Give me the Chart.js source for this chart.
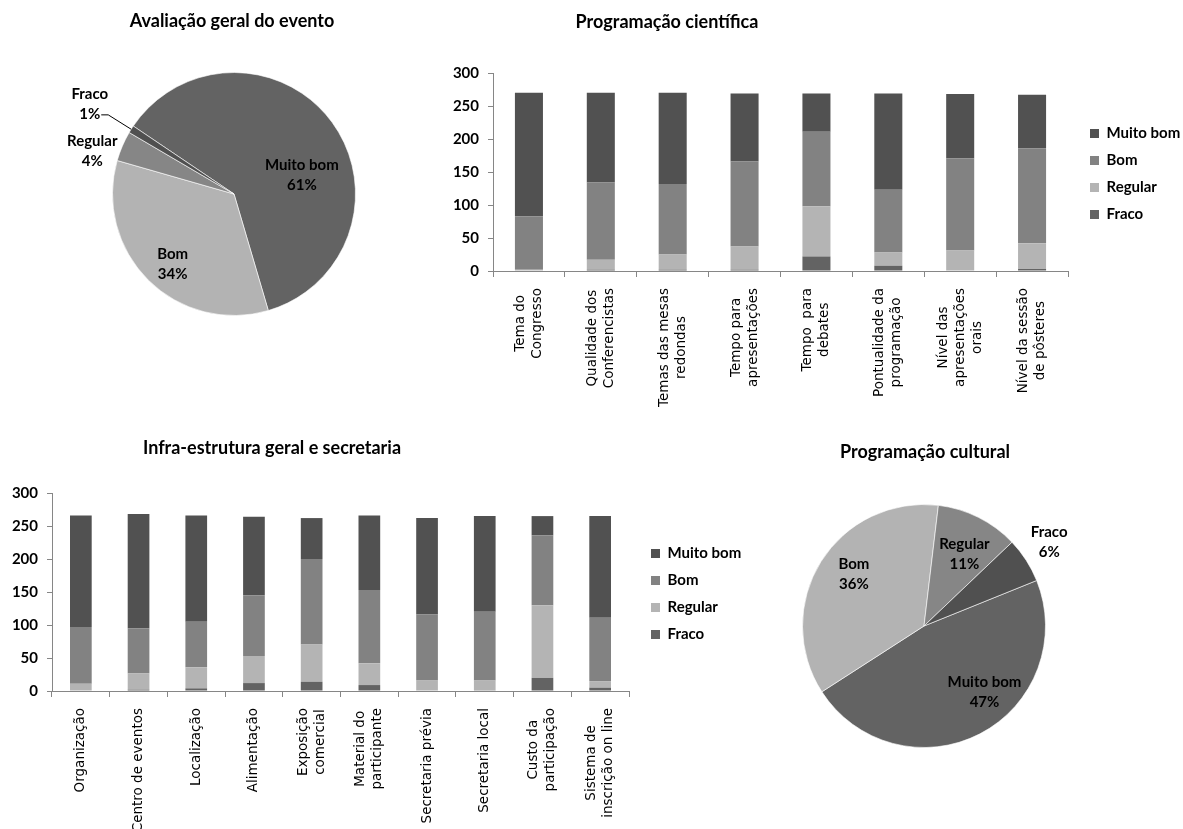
<!DOCTYPE html>
<html>
<head>
<meta charset="utf-8">
<script src="https://cdn.jsdelivr.net/npm/chart.js@4.4.1/dist/chart.umd.min.js"></script>
<style>
  body { margin: 0; background: #fff; }
  #page { position: relative; width: 1183px; height: 829px; overflow: hidden; }
  canvas { position: absolute; }
</style>
</head>
<body>
<div id="page">
  <canvas id="pieGeral" width="440" height="420" style="left:0;top:0"></canvas>
  <canvas id="barCientifica" width="743" height="420" style="left:440px;top:0"></canvas>
  <canvas id="barInfra" width="760" height="399" style="left:0;top:430px"></canvas>
  <canvas id="pieCultural" width="423" height="399" style="left:760px;top:430px"></canvas>
</div>
<script>
// categories shared by every chart
const levels = ['Muito bom', 'Bom', 'Regular', 'Fraco']

// pie values (percent)
const geralPercent = [61, 34, 4, 1]
const culturalPercent = [47, 36, 11, 6]

// Programação científica
const cientificaLabels = [
  ['Tema do', 'Congresso'],
  ['Qualidade dos', 'Conferencistas'],
  ['Temas das mesas', 'redondas'],
  ['Tempo para', 'apresentações'],
  ['Tempo  para', 'debates'],
  ['Pontualidade da', 'programação'],
  ['Nível das', 'apresentações', 'orais'],
  ['Nível da sessão', 'de pôsteres'],
]
const cientificaFraco = [0, 2, 2, 2, 22, 8, 0, 3]
const cientificaRegular = [2, 15, 23, 35, 76, 20, 31, 39]
const cientificaBom = [81, 117, 107, 129, 113, 95, 140, 144]
const cientificaMuitoBom = [187, 136, 138, 103, 58, 146, 97, 81]

// Infra-estrutura geral e secretaria
const infraLabels = [
  ['Organização'],
  ['Centro de eventos'],
  ['Localização'],
  ['Alimentação'],
  ['Exposição', 'comercial'],
  ['Material do', 'participante'],
  ['Secretaria prévia'],
  ['Secretaria local'],
  ['Custo da', 'participação'],
  ['Sistema de', 'inscrição on line'],
]
const infraFraco = [0, 2, 4, 12, 14, 9, 0, 1, 20, 5]
const infraRegular = [11, 25, 32, 41, 57, 33, 16, 15, 110, 10]
const infraBom = [86, 68, 69, 92, 129, 111, 100, 104, 106, 96]
const infraMuitoBom = [169, 173, 161, 119, 62, 113, 146, 145, 29, 154]

// y axis ticks of the bar charts
const barTicks = { min: 0, max: 300, step: 50 }

Chart.defaults.font.family = 'Lato'
Chart.defaults.color = '#000'
Chart.defaults.animation = false

const axisGrey = '#868686'

// title drawn at a chosen spot of the canvas
const chartTitle = {
  id: 'chartTitle',
  afterDraw(chart, args, opts) {
    const ctx = chart.ctx
    ctx.save()
    ctx.font = 'bold 18px Lato'
    ctx.fillStyle = '#000'
    ctx.textAlign = 'center'
    ctx.textBaseline = 'middle'
    ctx.fillText(opts.text, opts.x, opts.y)
    ctx.restore()
  }
}

// "Name / nn%" labels around the pie slices
const sliceLabels = {
  id: 'sliceLabels',
  afterDatasetsDraw(chart, args, opts) {
    const ctx = chart.ctx
    const meta = chart.getDatasetMeta(0)
    const values = chart.data.datasets[0].data
    ctx.save()
    ctx.font = 'bold 15px Lato'
    ctx.fillStyle = '#000'
    ctx.strokeStyle = '#000'
    ctx.lineWidth = 1
    ctx.textAlign = 'center'
    ctx.textBaseline = 'middle'
    meta.data.forEach((arc, i) => {
      const spot = opts.spots[i]
      const a = (spot.angle - 90) * Math.PI / 180
      const x = arc.x + Math.cos(a) * arc.outerRadius * spot.dist
      const y = arc.y + Math.sin(a) * arc.outerRadius * spot.dist
      const pct = values[i] + '%'
      ctx.fillText(chart.data.labels[i], x, y - 10)
      ctx.fillText(pct, x, y + 10)
      if (spot.leader) {
        const mid = (arc.startAngle + arc.endAngle) / 2
        const sx = x + ctx.measureText(pct).width / 2 + 1
        ctx.beginPath()
        ctx.moveTo(sx, y + 11)
        ctx.lineTo(sx + 7, y + 11)
        ctx.lineTo(arc.x + Math.cos(mid) * arc.outerRadius, arc.y + Math.sin(mid) * arc.outerRadius)
        ctx.stroke()
      }
    })
    ctx.restore()
  }
}

// rotated category labels, lines centred on the category
const categoryLabels = {
  id: 'categoryLabels',
  afterDraw(chart, args, opts) {
    const scale = chart.scales.x
    const ctx = chart.ctx
    const lh = 17
    ctx.save()
    ctx.font = '13.5px "DejaVu Sans"'
    ctx.fillStyle = '#000'
    ctx.textAlign = 'center'
    ctx.textBaseline = 'middle'
    chart.data.labels.forEach((label, i) => {
      const lines = [].concat(label)
      const longest = Math.max(...lines.map(l => ctx.measureText(l).width))
      const x0 = scale.getPixelForTick(i) - (lines.length - 1) * lh / 2
      lines.forEach((line, j) => {
        ctx.save()
        ctx.translate(x0 + j * lh, scale.top + 17 + longest / 2)
        ctx.rotate(-Math.PI / 2)
        ctx.fillText(line, 0, 0)
        ctx.restore()
      })
    })
    ctx.restore()
  }
}

// keep the legend beside the plot area, a little to the right of it
const legendNudge = {
  id: 'legendNudge',
  afterLayout(chart, args, opts) {
    const lg = chart.legend
    if (!lg) return
    lg.left += opts.dx
    lg.right += opts.dx
    lg.top = chart.chartArea.top + opts.dy
    lg.bottom = chart.chartArea.bottom + opts.dy
  }
}

function pieChart(id, values, rotation, padding, title, spots) {
  return new Chart(document.getElementById(id), {
    type: 'pie',
    data: {
      labels: levels,
      datasets: [{
        data: values,
        backgroundColor: ['#636363', '#b3b3b3', '#868686', '#505050'],
        borderColor: 'rgba(255,255,255,0.6)',
        borderWidth: 1,
      }],
    },
    options: {
      responsive: false,
      rotation: rotation,
      layout: { padding: padding },
      plugins: {
        legend: { display: false },
        tooltip: { enabled: false },
        chartTitle: title,
        sliceLabels: { spots: spots },
      },
    },
    plugins: [chartTitle, sliceLabels],
  })
}

function barChart(id, labels, fraco, regular, bom, muitoBom, size, title, dx) {
  const padding = { top: size.top, left: 0, right: 100, bottom: 0 }
  const chart = new Chart(document.getElementById(id), {
    type: 'bar',
    data: {
      labels: labels,
      datasets: [
        { label: 'Fraco', data: fraco, backgroundColor: '#636363' },
        { label: 'Regular', data: regular, backgroundColor: '#b4b4b4' },
        { label: 'Bom', data: bom, backgroundColor: '#828282' },
        { label: 'Muito bom', data: muitoBom, backgroundColor: '#515151' },
      ],
    },
    options: {
      responsive: false,
      layout: { padding: padding },
      datasets: { bar: { barPercentage: size.bar, categoryPercentage: 1 } },
      scales: {
        x: {
          stacked: true,
          grid: { drawOnChartArea: false, tickLength: 6, color: axisGrey },
          border: { color: axisGrey },
          ticks: { display: false },
          afterFit: s => { s.height = size.xHeight },
        },
        y: {
          stacked: true,
          min: barTicks.min,
          max: barTicks.max,
          grid: { drawOnChartArea: false, tickLength: 5, color: axisGrey },
          border: { color: axisGrey },
          ticks: { stepSize: barTicks.step, padding: 9, color: '#000', font: { size: 15, weight: 'bold' } },
          afterFit: s => { s.width = size.yWidth },
        },
      },
      plugins: {
        legend: {
          position: 'right',
          reverse: true,
          labels: { boxWidth: 9, boxHeight: 9, padding: 12, color: '#000', font: { size: 15, weight: 'bold' } },
        },
        tooltip: { enabled: false },
        chartTitle: title,
        legendNudge: { dx: dx, dy: 2 },
      },
    },
    plugins: [chartTitle, categoryLabels, legendNudge],
  })
  padding.right += chart.chartArea.right - size.right
  chart.update('none')
  return chart
}

pieChart('pieGeral', geralPercent, -56,
  { left: 112, top: 72, right: 84, bottom: 104 },
  { text: 'Avaliação geral do evento', x: 232, y: 21 },
  [
    { angle: 74.5, dist: 0.58 },
    { angle: 221, dist: 0.77 },
    { angle: 287, dist: 1.22 },
    { angle: 302, dist: 1.40, leader: true },
  ])

barChart('barCientifica', cientificaLabels, cientificaFraco, cientificaRegular, cientificaBom, cientificaMuitoBom,
  { top: 73, right: 628, xHeight: 149, yWidth: 53, bar: 0.39 },
  { text: 'Programação científica', x: 227, y: 22 }, 10)

barChart('barInfra', infraLabels, infraFraco, infraRegular, infraBom, infraMuitoBom,
  { top: 63, right: 629, xHeight: 138, yWidth: 52, bar: 0.376 },
  { text: 'Infra-estrutura geral e secretaria', x: 272, y: 18 }, 10)

pieChart('pieCultural', culturalPercent, 68,
  { left: 42, top: 74, right: 137, bottom: 81 },
  { text: 'Programação cultural', x: 165, y: 22 },
  [
    { angle: 137.7, dist: 0.74 },
    { angle: 306.7, dist: 0.72 },
    { angle: 29.3, dist: 0.68 },
    { angle: 56.2, dist: 1.24 },
  ])
</script>
</body>
</html>
